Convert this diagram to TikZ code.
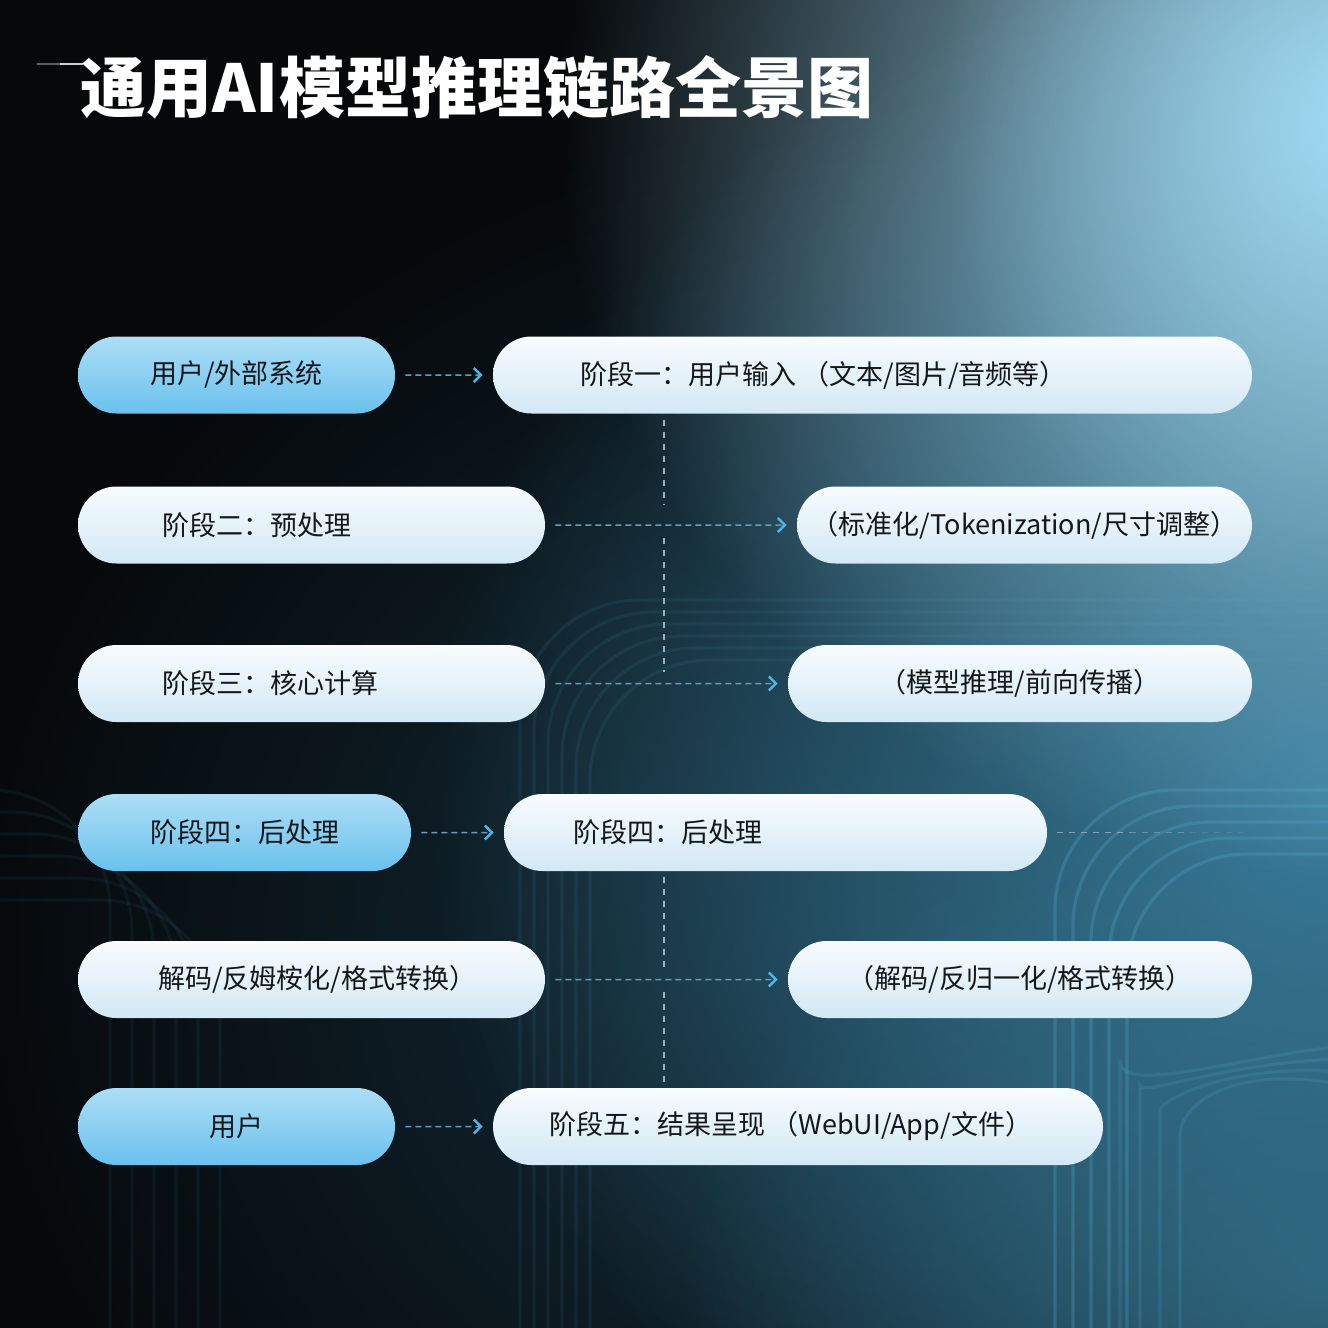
\documentclass[tikz,border=0pt]{standalone}
\usepackage{fontspec}
\setmainfont{Noto Sans CJK SC}
\usetikzlibrary{arrows.meta,shapes.misc,fadings}
\tikzfading[name=glowfade, inner color=transparent!0, outer color=transparent!100]
\definecolor{bgdark}{HTML}{06080A}
\definecolor{glowsky}{HTML}{A2DDF6}
\definecolor{glowteal}{HTML}{3A7E9C}
\definecolor{glowhaze}{HTML}{15303D}
\definecolor{swirl}{HTML}{5AA9CF}
\definecolor{pilltop}{HTML}{F8FCFF}
\definecolor{pillbot}{HTML}{D2E8F5}
\definecolor{bluetop}{HTML}{ADDEF6}
\definecolor{bluebot}{HTML}{6AC1EE}
\definecolor{txtcol}{HTML}{14181B}
\definecolor{dashcol}{HTML}{6A9CB6}
\definecolor{tipcol}{HTML}{4DB6E8}
\definecolor{vcol}{HTML}{9AB3C2}
\tikzset{
  pillw/.style={rounded rectangle, minimum height=38.5pt, inner sep=0pt,
    top color=pilltop, bottom color=pillbot, draw=none, text=txtcol,
    font=\fontsize{13.5}{15}\selectfont},
  pillb/.style={pillw, top color=bluetop, bottom color=bluebot},
  txt/.style={anchor=west, inner sep=0pt, text=txtcol, font=\fontsize{13.5}{15}\selectfont},
  flow/.style={draw=dashcol, line width=0.75pt, dash pattern=on 3pt off 2pt,
    -{Straight Barb[length=3.5pt, width=7pt, line width=1.2pt, color=tipcol]},
    shorten <=5pt, shorten >=5pt},
  vline/.style={draw=vcol, line width=0.6pt, dash pattern=on 3pt off 3pt},
  swirlline/.style={draw=swirl, line width=1.6pt, rounded corners=60pt}
}
\begin{document}
\begin{tikzpicture}[x=0.5pt, y=-0.5pt]
\useasboundingbox (0,0) rectangle (1328,1328);
\clip (0,0) rectangle (1328,1328);
% background
\fill[bgdark] (0,0) rectangle (1328,1328);
\fill[glowhaze, path fading=glowfade] (900,950) ellipse [x radius=950, y radius=850];
\fill[glowteal, path fading=glowfade] (1330,800) ellipse [x radius=900, y radius=850];
\fill[glowteal, opacity=0.6, path fading=glowfade] (1328,1280) ellipse [x radius=650, y radius=500];
\fill[glowsky, path fading=glowfade] (1380,120) ellipse [x radius=820, y radius=760];
\fill[glowsky, opacity=0.5, path fading=glowfade] (1360,120) ellipse [x radius=420, y radius=520];
% swirl contours
\foreach \i in {0,...,5}{
  \draw[swirlline, opacity=0.09] (520+14*\i,1500) -- (520+14*\i,600+12*\i) -- (1500,600+12*\i);
}
\foreach \i in {0,...,4}{
  \draw[swirlline, opacity=0.28] (1055+18*\i,1500) -- (1055+18*\i,790+16*\i) -- (1500,790+16*\i);
}
\foreach \i in {0,...,5}{
  \draw[swirlline, opacity=0.07] (-100,790+22*\i) -- (110+22*\i,790+22*\i) -- (110+22*\i,1500);
}
\foreach \i in {0,...,3}{
  \draw[swirlline, opacity=0.18] (1120+20*\i,1500) -- (1120+20*\i,1180+25*\i) .. controls (1120+20*\i,1100) and (1250,1050) .. (1400,1040+20*\i);
}
% title
\coordinate (tl1) at (37,64);
\coordinate (tl2) at (60,64);
\coordinate (tl3) at (83,64);
\draw[white, opacity=0.35, line width=0.6pt] (tl1) -- (tl2);
\draw[white, opacity=0.8, line width=0.6pt] (tl2) -- (tl3);
\node[anchor=west, inner sep=0pt, text=white, font=\fontsize{33}{36}\selectfont\bfseries] (title) at (80,87) {通用AI模型推理链路全景图};
% pills
\node[pillb, minimum width=158.5pt] (A) at (236.5,375) {用户/外部系统};
\node[pillw, minimum width=379.5pt] (B) at (872.5,375) {};
\node[txt] (tB) at (580,375) {阶段一：用户输入 （文本/图片/音频等）};
\node[pillw, minimum width=233.5pt] (C) at (311.5,525) {};
\node[txt] (tC) at (162,525) {阶段二：预处理};
\node[pillw, minimum width=227.5pt] (D) at (1024.5,525) {（标准化/Tokenization/尺寸调整）};
\node[pillw, minimum width=233.5pt] (E) at (311.5,683.5) {};
\node[txt] (tE) at (162,683.5) {阶段三：核心计算};
\node[pillw, minimum width=232pt] (F) at (1020,683.5) {（模型推理/前向传播）};
\node[pillb, minimum width=166.5pt] (G) at (244.5,832.5) {阶段四：后处理};
\node[pillw, minimum width=271.5pt] (H) at (775.5,832.5) {};
\node[txt] (tH) at (573,832.5) {阶段四：后处理};
\node[pillw, minimum width=233.5pt] (I) at (311.5,979.5) {};
\node[txt] (tI) at (158,979.5) {解码/反姆桉化/格式转换）};
\node[pillw, minimum width=232pt] (J) at (1020,979.5) {（解码/反归一化/格式转换）};
\node[pillb, minimum width=158.5pt] (K) at (236.5,1126.5) {用户};
\node[pillw, minimum width=305pt] (L) at (798,1126.5) {};
\node[txt] (tL) at (549,1126.5) {阶段五：结果呈现 （WebUI/App/文件）};
% vertical dashed connectors
\coordinate (v1a) at (664,505);
\coordinate (v1b) at (664,538);
\coordinate (v1c) at (664,672);
\coordinate (v2a) at (664,968);
\coordinate (v2b) at (664,992);
\draw[vline, shorten <=3pt] (B.south -| v1a) -- (v1a);
\draw[vline] (v1b) -- (v1c);
\draw[vline, shorten <=3pt] (H.south -| v2a) -- (v2a);
\draw[vline, shorten >=2pt] (v2b) -- (L.north -| v2b);
% flow arrows
\draw[flow] (A) -- (B);
\draw[flow] (C) -- (D);
\draw[flow] (E) -- (F);
\draw[flow] (G) -- (H);
\draw[flow] (I) -- (J);
\draw[flow] (K) -- (L);
% fading line right of H
\coordinate (h1) at (1057,832.5);
\coordinate (h2) at (1130,832.5);
\coordinate (h3) at (1190,832.5);
\coordinate (h4) at (1245,832.5);
\draw[vline, opacity=0.8] (h1) -- (h2);
\draw[vline, opacity=0.5] (h2) -- (h3);
\draw[vline, opacity=0.2] (h3) -- (h4);
\end{tikzpicture}
\end{document}
